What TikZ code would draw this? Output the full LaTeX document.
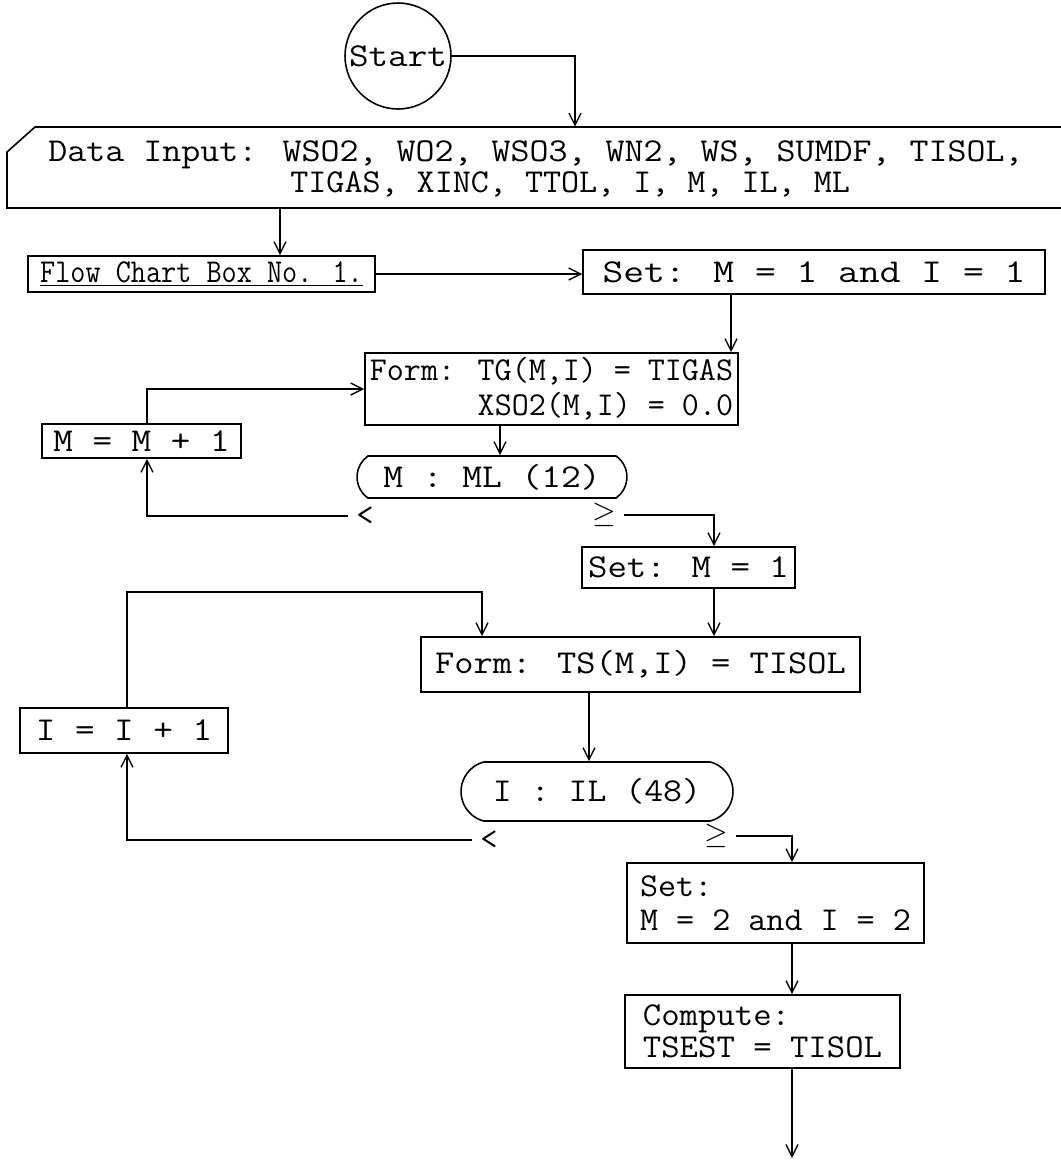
\documentclass[tikz,border=0pt]{standalone}
\usepackage{fontspec}
\usepackage{graphicx}
\usetikzlibrary{arrows.meta,shapes.misc}
\begin{document}
\begin{tikzpicture}[x=0.02cm,y=-0.02cm,
  every node/.style={font=\fontsize{19pt}{17pt}\selectfont\ttfamily},
  box/.style={draw,line width=0.9pt,inner sep=0pt,rectangle},
  term/.style={draw,line width=0.9pt,inner sep=0pt,rounded rectangle},
  lbl/.style={inner sep=0pt,outer sep=0.17cm},
  arr/.style={line width=0.8pt,-{Straight Barb[length=0.24cm,width=0.24cm]}}]
\useasboundingbox (0,0) rectangle (1061,1161);
\fill[white] (0,0) rectangle (1061,1161);

% start
\node[draw,circle,line width=0.9pt,inner sep=0pt,minimum size=2.12cm] (start) at (398,56) {\scalebox{1.14}[1]{Start}};

% data input (manual input shape, open at right)
\node[inner sep=0pt,minimum width=21.26cm,minimum height=1.62cm] (datain) at (538.5,167.5) {};
\draw[line width=0.9pt] (1075,127) -- (35,127) -- (7,152) -- (7,208) -- (1075,208);
\node[anchor=base west,inner sep=0pt] (d1) at (48,161) {\scalebox{1.105}[1]{Data Input: WSO2, WO2, WSO3, WN2, WS, SUMDF, TISOL,}};
\node[anchor=base west,inner sep=0pt] (d2) at (290,192) {\scalebox{1.05}[1]{TIGAS, XINC, TTOL, I, M, IL, ML}};

% boxes
\node[box,minimum width=6.94cm,minimum height=0.72cm] (flow) at (201.5,274) {\scalebox{0.88}[1]{\underline{Flow Chart Box No. 1.}}};
\node[box,minimum width=9.24cm,minimum height=0.88cm] (set1) at (814,272) {\scalebox{1.21}[1]{Set: M = 1 and I = 1}};
\node[box,minimum width=7.46cm,minimum height=1.44cm,align=right,font=\fontsize{19pt}{20pt}\selectfont\ttfamily] (form1) at (551.5,389) {\scalebox{0.99}[1]{Form: TG(M,I) = TIGAS}\\\scalebox{0.99}[1]{XSO2(M,I) = 0.0}};
\node[term,rounded rectangle arc length=110,minimum width=5.4cm,minimum height=0.84cm] (mml) at (492,477) {\scalebox{1.15}[1]{M : ML (12)}};
\node[box,minimum width=3.98cm,minimum height=0.68cm] (minc) at (141.5,441) {\scalebox{1.14}[1]{M = M + 1}};
\node[box,minimum width=4.26cm,minimum height=0.82cm] (setm1) at (688.5,567.5) {\scalebox{1.13}[1]{Set: M = 1}};
\node[box,minimum width=8.78cm,minimum height=1.1cm] (formts) at (640.5,664.5) {\scalebox{1.12}[1]{Form: TS(M,I) = TISOL}};
\node[term,rounded rectangle arc length=150,minimum width=5.44cm,minimum height=1.18cm] (iil) at (597,791.5) {\scalebox{1.1}[1]{I : IL (48)}};
\node[box,minimum width=4.16cm,minimum height=0.9cm] (iinc) at (124,730.5) {\scalebox{1.14}[1]{I = I + 1}};
\node[box,minimum width=5.94cm,minimum height=1.6cm,align=left,font=\fontsize{19pt}{19pt}\selectfont\ttfamily] (set2) at (775.5,903) {\scalebox{1.05}[1]{Set:}\\\scalebox{1.05}[1]{M = 2 and I = 2}};
\node[box,minimum width=5.5cm,minimum height=1.46cm,align=left,font=\fontsize{19pt}{18pt}\selectfont\ttfamily] (comp) at (762.5,1031.5) {\scalebox{1.07}[1]{Compute:}\\\scalebox{1.07}[1]{TSEST = TISOL}};
\coordinate (endpt) at (792,1158);

% branch labels
\node[lbl] (lt1) at (365,516) {<};
\node[lbl] (ge1) at (604,515) {$\geq$};
\node[lbl] (lt2) at (489,840) {<};
\node[lbl] (ge2) at (716,836) {$\geq$};
\coordinate (b1) at (482,592);

% connectors
\draw[arr] (start.east) -| (575,0 |- datain.north);
\draw[arr] (280,0 |- datain.south) -- (280,0 |- flow.north);
\draw[arr] (flow.east) -- (flow.east -| set1.west);
\draw[arr] (731,0 |- set1.south) -- (731,0 |- form1.north);
\draw[arr] (500,0 |- form1.south) -- (500,0 |- mml.north);
\draw[arr] (lt1.west) -| (147,0 |- minc.south);
\draw[arr] (147,0 |- minc.north) |- (form1.west);
\draw[arr] (ge1.east) -| (714,0 |- setm1.north);
\draw[arr] (714,0 |- setm1.south) -- (714,0 |- formts.north);
\draw[arr] (127,0 |- iinc.north) |- (b1) -- (482,0 |- formts.north);
\draw[arr] (589,0 |- formts.south) -- (589,0 |- iil.north);
\draw[arr] (lt2.west) -| (127,0 |- iinc.south);
\draw[arr] (ge2.east) -| (792,0 |- set2.north);
\draw[arr] (792,0 |- set2.south) -- (792,0 |- comp.north);
\draw[arr] (792,0 |- comp.south) -- (endpt);
\end{tikzpicture}
\end{document}
